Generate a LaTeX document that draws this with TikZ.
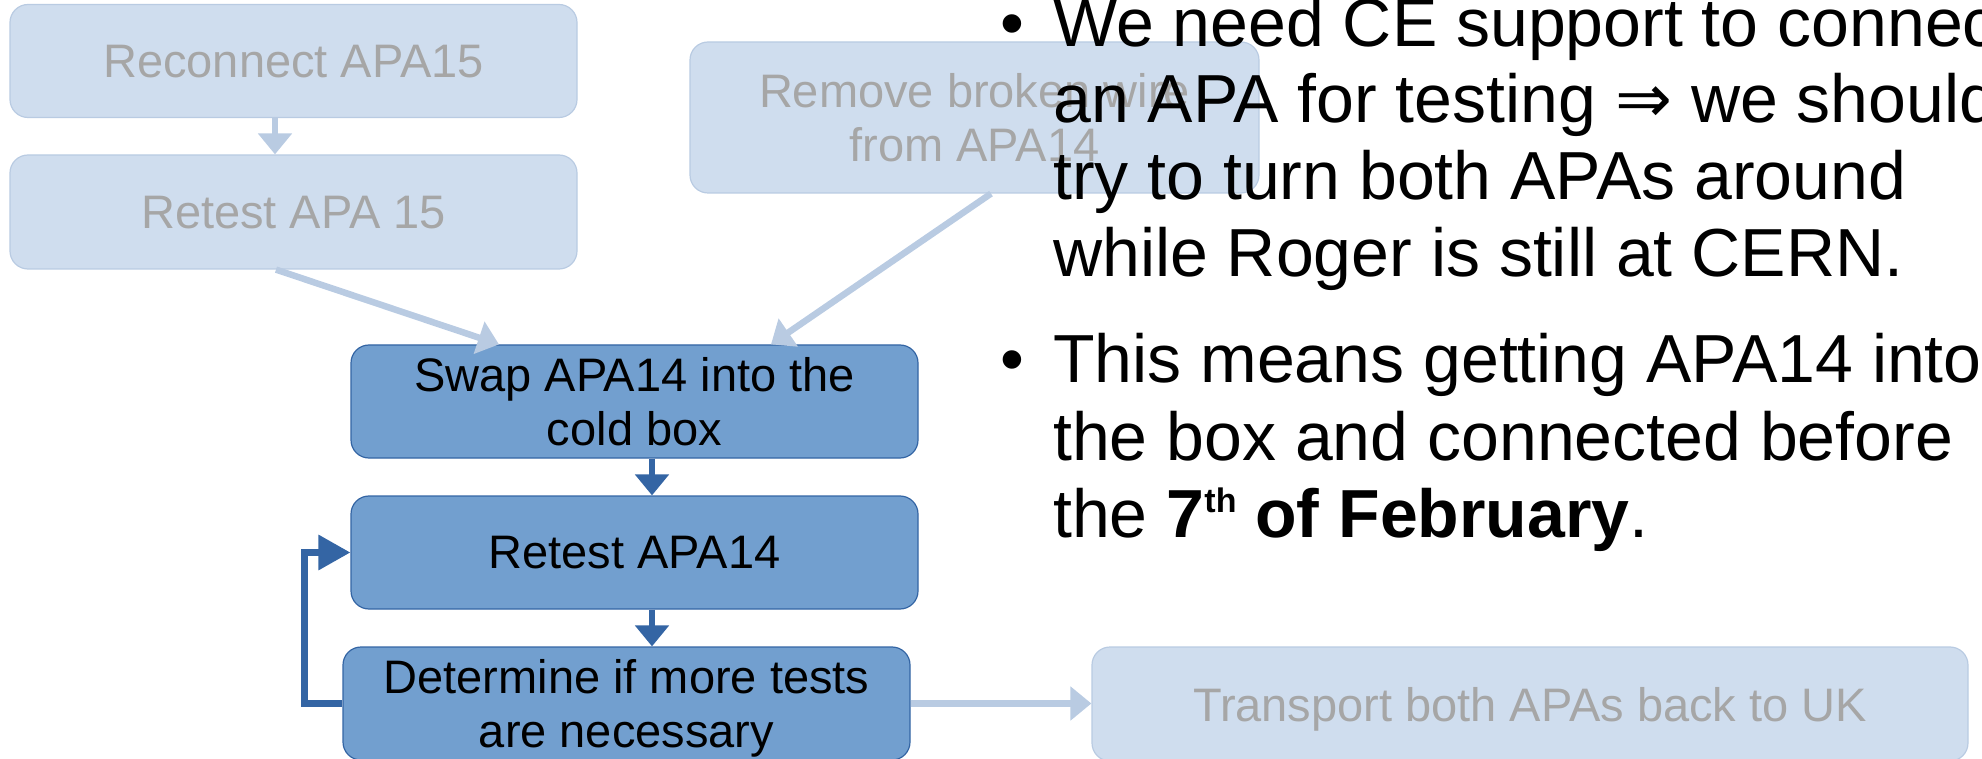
\documentclass[tikz,border=0pt]{standalone}
\usepackage{fontspec}
\setmainfont{Liberation Sans}
\newfontfamily\symfont{DejaVu Sans}
\usetikzlibrary{arrows.meta,calc}
\definecolor{lightfill}{HTML}{CFDDEE}
\definecolor{lightline}{HTML}{B9CBE2}
\definecolor{lighttext}{HTML}{A6A6A6}
\definecolor{darkfill}{HTML}{729FCF}
\definecolor{darkline}{HTML}{3465A4}
\tikzset{
  boxbase/.style={rectangle, rounded corners=18pt, inner sep=0pt, align=center,
    font=\fontsize{47}{54}\selectfont, line width=1.2pt, text depth=0pt},
  lightbox/.style={boxbase, fill=lightfill, draw=lightline, text=lighttext},
  darkbox/.style={boxbase, fill=darkfill, draw=darkline, text=black},
  lightarrow/.style={draw=lightline, line width=6.5pt, -{Triangle[width=33pt,length=21pt]}},
  darkarrow/.style={draw=darkline, line width=6.5pt, -{Triangle[width=33pt,length=21pt]}},
  looparrow/.style={draw=darkline, line width=6.5pt, -{Triangle[width=34pt,length=32pt]}},
  bullettext/.style={anchor=base west, inner sep=0pt, font=\fontsize{68}{77}\selectfont}
}
\begin{document}
\begin{tikzpicture}[x=1pt,y=-1pt]
\useasboundingbox (0,0) rectangle (1982,759);
% light boxes
\node[lightbox, minimum width=567pt, minimum height=113pt] (rec) at (293.5,61) {Reconnect APA15};
\node[lightbox, minimum width=567pt, minimum height=114pt] (r15) at (293.5,212) {Retest APA 15};
\node[lightbox, minimum width=569pt, minimum height=151pt] (rem) at (974.5,117.5) {Remove broken wire\\from APA14};
\node[lightbox, minimum width=876pt, minimum height=114pt] (trans) at (1530,704) {Transport both APAs back to UK};
% dark boxes
\node[darkbox, minimum width=567pt, minimum height=113pt] (swap) at (634.5,401.5) {Swap APA14 into the\\cold box};
\node[darkbox, minimum width=567pt, minimum height=113pt] (r14) at (634.5,552.5) {Retest APA14};
\node[darkbox, minimum width=567pt, minimum height=113pt] (det) at (626.5,703.5) {Determine if more tests\\are necessary};
% connectors
\draw[lightarrow] ([xshift=-18.5pt]rec.south) -- ([xshift=-18.5pt]r15.north);
\draw[lightarrow] ([xshift=-17.5pt]r15.south) -- ([xshift=-135.5pt]swap.north);
\draw[lightarrow] ([xshift=16.5pt]rem.south) -- ([xshift=136.5pt]swap.north);
\draw[darkarrow] ([xshift=17.5pt]swap.south) -- ([xshift=17.5pt]r14.north);
\draw[darkarrow] ([xshift=17.5pt]r14.south) -- ([xshift=25.5pt]det.north);
\draw[looparrow] (det.west) -- ++(-38,0) |- (r14.west);
\draw[lightarrow] (det.east) -- (trans.west |- det.east);
% bullet text
\node[bullettext] (b1) at (1000,47) {•};
\node[bullettext] (l1) at (1053,47) {We need CE support to connect};
\node[bullettext] (l2) at (1053,123) {an APA for testing {\symfont ⇒} we should};
\node[bullettext] (l3) at (1053,200) {try to turn both APAs around};
\node[bullettext] (l4) at (1053,277) {while Roger is still at CERN.};
\node[bullettext] (b2) at (1000,383) {•};
\node[bullettext] (m1) at (1053,383) {This means getting APA14 into};
\node[bullettext] (m2) at (1053,460) {the box and connected before};
\node[bullettext] (m3) at (1053,537) {the \textbf{7\raisebox{25pt}{\fontsize{34}{34}\selectfont th} of February}.};
\end{tikzpicture}
\end{document}
